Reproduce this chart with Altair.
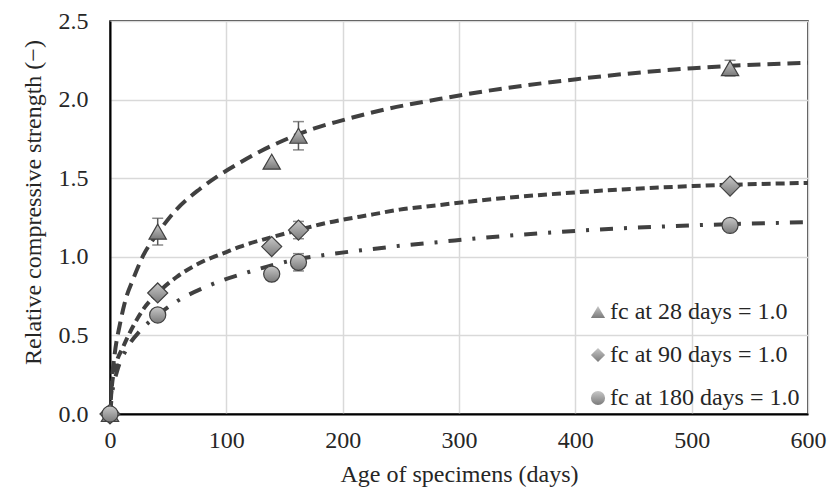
import altair as alt
import pandas as pd

series = ["fc at 28 days = 1.0", "fc at 90 days = 1.0", "fc at 180 days = 1.0"]
shapes = ["triangle-up", "diamond", "circle"]
dashes = [[13, 7], [9, 5], [13, 11, 3, 11]]
marker_sizes = [300, 400, 260]

# measured points
age = [0, 41, 139, 162, 533]
s28 = [0.0, 1.16, 1.605, 1.77, 2.20]
s90 = [0.0, 0.77, 1.065, 1.17, 1.45]
s180 = [0.0, 0.63, 0.89, 0.965, 1.20]
err28 = [0.0, 0.085, 0.0, 0.09, 0.05]
err90 = [0.0, 0.0, 0.0, 0.055, 0.0]
err180 = [0.0, 0.0, 0.0, 0.055, 0.0]

# fitted curves
fx28 = [0, 1.5, 4, 8.5, 13.5, 20, 28.7, 41, 57, 77, 92, 112, 129, 149, 175, 198, 241, 284, 307, 401, 501, 600]
fy28 = [0, 0.20, 0.38, 0.57, 0.73, 0.86, 1.01, 1.15, 1.30, 1.43, 1.51, 1.60, 1.67, 1.74, 1.815, 1.865, 1.945, 2.005, 2.035, 2.13, 2.20, 2.235]
fx90 = [0, 1.5, 5, 11.5, 23, 29, 41, 57, 77, 100, 112, 139, 162, 183, 226, 249, 284, 307, 401, 501, 600]
fy90 = [0, 0.17, 0.31, 0.43, 0.60, 0.67, 0.77, 0.87, 0.96, 1.03, 1.065, 1.125, 1.17, 1.21, 1.27, 1.30, 1.33, 1.35, 1.41, 1.45, 1.47]
fx180 = [0, 2, 6, 14, 26, 41, 54, 86, 120, 162, 183, 226, 249, 284, 335, 401, 501, 600]
fy180 = [0, 0.14, 0.27, 0.41, 0.53, 0.63, 0.70, 0.82, 0.905, 0.985, 1.01, 1.05, 1.07, 1.095, 1.13, 1.165, 1.20, 1.22]

x_ticks = [0, 100, 200, 300, 400, 500, 600]
y_ticks = [0.0, 0.5, 1.0, 1.5, 2.0, 2.5]

FONT = "Liberation Serif"
LINE = "#404040"
TXT = "#262626"

pts = pd.DataFrame({
    "age": age * 3,
    "val": s28 + s90 + s180,
    "err": err28 + err90 + err180,
    "series": [series[0]] * 5 + [series[1]] * 5 + [series[2]] * 5,
    "sz": [marker_sizes[0]] * 5 + [marker_sizes[1]] * 5 + [marker_sizes[2]] * 5,
})
pts["lo"] = pts["val"] - pts["err"]
pts["hi"] = pts["val"] + pts["err"]
errs = pts[pts["err"] > 0]

xs = alt.X("age:Q", scale=alt.Scale(domain=[0, 600], nice=False),
           axis=alt.Axis(values=x_ticks, title="Age of specimens (days)",
                         labelPadding=14, titleY=60, titleBaseline="middle"))
ys = alt.Y("val:Q", scale=alt.Scale(domain=[0, 2.5], nice=False),
           axis=alt.Axis(values=y_ticks, format=".1f",
                         title="Relative compressive strength (−)",
                         labelPadding=22, titleX=-77, titleY=181,
                         titleBaseline="middle", titleAlign="center"))

layers = []
for fx, fy, d in zip([fx28, fx90, fx180], [fy28, fy90, fy180], dashes):
    df = pd.DataFrame({"age": fx, "val": fy})
    layers.append(
        alt.Chart(df).mark_line(color=LINE, strokeWidth=4, strokeDash=d,
                                strokeCap="butt", interpolate="monotone", clip=True)
        .encode(x=xs, y=ys)
    )

rules = alt.Chart(errs).mark_rule(color="#595959", strokeWidth=1.5).encode(
    x="age:Q", y="lo:Q", y2="hi:Q")
cap_hi = alt.Chart(errs).mark_tick(color="#595959", thickness=1.5, size=11,
                                   orient="horizontal").encode(x="age:Q", y="hi:Q")
cap_lo = alt.Chart(errs).mark_tick(color="#595959", thickness=1.5, size=11,
                                   orient="horizontal").encode(x="age:Q", y="lo:Q")

grad = alt.Gradient(gradient="linear",
                    stops=[alt.GradientStop(color="#c8c8c8", offset=0),
                           alt.GradientStop(color="#7a7a7a", offset=1)],
                    x1=0, x2=0, y1=0, y2=1)

points = alt.Chart(pts).mark_point(filled=True, fill=grad, stroke="#404040",
                                   strokeWidth=1.2, opacity=1).encode(
    x=xs, y=ys,
    shape=alt.Shape("series:N", sort=series,
                    scale=alt.Scale(domain=series, range=shapes),
                    legend=alt.Legend(title=None, orient="none", legendX=476, legendY=279,
                                      labelFont=FONT, labelFontSize=24, labelColor=TXT,
                                      labelLimit=400,
                                      symbolFillColor="#a0a0a0", symbolStrokeColor="#404040",
                                      symbolStrokeWidth=1, symbolSize=200, labelOffset=0,
                                      rowPadding=19, padding=0)),
    size=alt.Size("sz:Q", scale=None),
)

chart = alt.layer(*layers, rules, cap_hi, cap_lo, points).properties(
    width=698, height=393,
    autosize=alt.AutoSizeParams(type="none"),
    padding={"left": 110, "top": 21, "right": 21, "bottom": 76},
).configure_view(stroke="#000000", strokeWidth=1.5).configure_axis(
    labelFont=FONT, titleFont=FONT, labelFontSize=24, titleFontSize=24,
    titleFontWeight="normal", labelColor=TXT, titleColor=TXT,
    gridColor="#d9d9d9", gridWidth=1.5, ticks=False, labelFlush=False,
    domainColor="#000000", domainWidth=2,
).configure_text(font=FONT)

chart.save("out.html", embed_options={"renderer": "svg", "actions": False})
